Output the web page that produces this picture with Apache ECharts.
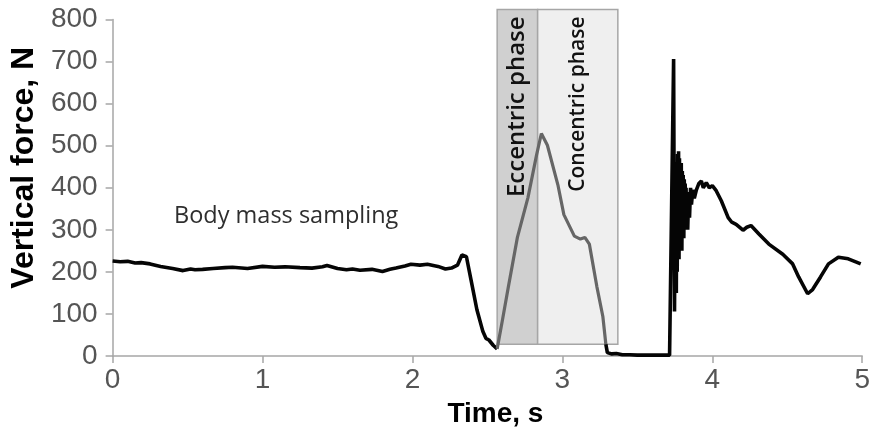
<!DOCTYPE html>
<html>
<head>
<meta charset="utf-8">
<script src="https://cdn.jsdelivr.net/npm/echarts@6/dist/echarts.min.js"></script>
<style>
  html, body { margin: 0; padding: 0; background: #fff; }
  #chart { width: 873px; height: 433px; }
</style>
</head>
<body>
<div id="chart"></div>
<script>
// Quiet standing and unweighting (black trace)
const timeStanding = [0, 0.05, 0.1, 0.15, 0.19, 0.25, 0.32, 0.4, 0.47, 0.52, 0.55, 0.6, 0.67, 0.75, 0.8, 0.9, 1.0, 1.08, 1.15, 1.25, 1.33, 1.4, 1.43, 1.5, 1.56, 1.6, 1.65, 1.73, 1.8, 1.85, 1.89, 1.95, 1.99, 2.05, 2.1, 2.17, 2.22, 2.26, 2.3, 2.33, 2.36, 2.39, 2.43, 2.47, 2.49, 2.51, 2.54, 2.565];
const forceStanding = [226, 224, 225, 221, 222, 219, 213, 208, 203, 207, 205, 206, 208, 210, 211, 208, 213, 211, 212, 210, 209, 212, 215, 208, 205, 207, 204, 206, 201, 206, 209, 214, 218, 216, 218, 213, 207, 209, 216, 240, 236, 182, 110, 58, 42, 38, 25, 17];

// Eccentric and concentric phases (grey trace)
const timePhases = [2.565, 2.6, 2.64, 2.7, 2.77, 2.828, 2.86, 2.9, 2.97, 3.01, 3.08, 3.12, 3.15, 3.18, 3.23, 3.27, 3.29];
const forcePhases = [17, 85, 165, 282, 376, 478, 529, 501, 407, 336, 285, 278, 282, 266, 165, 94, 28];

// Flight and landing (black trace)
const timeLanding = [3.29, 3.3, 3.33, 3.36, 3.4, 3.45, 3.5, 3.6, 3.715, 3.742, 3.748, 3.752, 3.755, 3.758, 3.76, 3.763, 3.766, 3.769, 3.772, 3.775, 3.778, 3.781, 3.784, 3.787, 3.79, 3.793, 3.797, 3.8, 3.803, 3.806, 3.81, 3.813, 3.816, 3.819, 3.822, 3.825, 3.828, 3.832, 3.836, 3.842, 3.848, 3.855, 3.861, 3.87, 3.88, 3.894, 3.91, 3.927, 3.94, 3.96, 3.98, 4.0, 4.026, 4.06, 4.106, 4.13, 4.159, 4.205, 4.23, 4.258, 4.311, 4.377, 4.47, 4.536, 4.576, 4.636, 4.669, 4.722, 4.775, 4.841, 4.907, 4.99];
const forceLanding = [28, 8, 5, 6, 3, 3, 2, 2, 2, 706, 106, 390, 180, 440, 150, 460, 200, 480, 240, 487, 230, 470, 250, 450, 270, 459, 250, 440, 300, 430, 280, 420, 313, 410, 300, 400, 330, 390, 300, 385, 329, 400, 360, 395, 375, 395, 410, 416, 400, 412, 400, 405, 393, 369, 329, 318, 313, 299, 306, 310, 290, 266, 242, 219, 188, 148, 158, 188, 219, 235, 231, 219];

// Phase boxes
const phaseNames = ['Eccentric phase', 'Concentric phase'];
const phaseStart = [2.565, 2.835];
const phaseEnd = [2.835, 3.37];
const phaseLow = [28, 28];
const phaseHigh = [824, 824];
const phaseFill = ['#d0d0d0', '#efefef'];
const phaseFontSize = [24, 21];

// Axis ticks
const timeTicks = [0, 1, 2, 3, 4, 5];
const forceTicks = [0, 100, 200, 300, 400, 500, 600, 700, 800];

const zip = (xs, ys) => xs.map((x, i) => [x, ys[i]]);

const chart = echarts.init(document.getElementById('chart'), null, { renderer: 'canvas' });

const labelFont = "'Liberation Sans', Arial, sans-serif";
const noteFont = "'Open Sans', sans-serif";

chart.setOption({
  animation: false,
  backgroundColor: '#ffffff',
  grid: { left: 112, right: 5, top: 19.5, bottom: 73, containLabel: false },
  xAxis: {
    type: 'value',
    min: timeTicks[0],
    max: timeTicks[timeTicks.length - 1],
    interval: 1,
    name: 'Time, s',
    nameLocation: 'middle',
    nameGap: 44,
    nameTextStyle: { fontFamily: labelFont, fontSize: 28, fontWeight: 'bold', color: '#000', padding: [0, 0, 0, 16] },
    axisLine: { lineStyle: { color: '#a6a6a6', width: 1.5 } },
    axisTick: { show: true, inside: false, length: 7, lineStyle: { color: '#a6a6a6', width: 1.5 } },
    axisLabel: { fontFamily: labelFont, fontSize: 28, color: '#555', margin: 10 },
    splitLine: { show: false }
  },
  yAxis: {
    type: 'value',
    min: forceTicks[0],
    max: forceTicks[forceTicks.length - 1],
    interval: 100,
    name: 'Vertical force, N',
    nameLocation: 'middle',
    nameRotate: 90,
    nameGap: 67,
    nameTextStyle: { fontFamily: labelFont, fontSize: 32, fontWeight: 'bold', color: '#000', padding: [0, 0, 0, 40] },
    axisLine: { show: true, lineStyle: { color: '#a6a6a6', width: 1.5 } },
    axisTick: { show: true, inside: false, length: 7, lineStyle: { color: '#a6a6a6', width: 1.5 } },
    axisLabel: { fontFamily: labelFont, fontSize: 28, color: '#555', margin: 15 },
    splitLine: { show: false }
  },
  series: [
    {
      type: 'custom',
      name: 'phases',
      z: 1,
      clip: false,
      silent: true,
      data: phaseNames.map((n, i) => [phaseStart[i], phaseEnd[i], phaseLow[i], phaseHigh[i], i]),
      encode: { x: [0, 1], y: [2, 3] },
      renderItem: function (params, api) {
        const i = api.value(4);
        const p0 = api.coord([api.value(0), api.value(3)]);
        const p1 = api.coord([api.value(1), api.value(2)]);
        const cx = (p0[0] + p1[0]) / 2;
        return {
          type: 'group',
          children: [
            {
              type: 'rect',
              shape: { x: p0[0], y: p0[1], width: p1[0] - p0[0], height: p1[1] - p0[1] },
              style: { fill: phaseFill[i], stroke: '#a6a6a6', lineWidth: 1.5 }
            },
            {
              type: 'text',
              x: cx,
              y: p0[1] + 7,
              rotation: Math.PI / 2,
              z2: 10,
              style: {
                text: phaseNames[i],
                fontFamily: noteFont,
                fontSize: phaseFontSize[i],
                fontWeight: 600,
                fill: '#111',
                align: 'right',
                verticalAlign: 'middle'
              }
            }
          ]
        };
      }
    },
    {
      type: 'line',
      name: 'standing',
      z: 3,
      showSymbol: false,
      symbol: 'none',
      data: zip(timeStanding, forceStanding),
      lineStyle: { color: '#050505', width: 3.6 }
    },
    {
      type: 'line',
      name: 'push-off',
      z: 3,
      showSymbol: false,
      symbol: 'none',
      data: zip(timePhases, forcePhases),
      lineStyle: { color: '#666666', width: 3.2 }
    },
    {
      type: 'line',
      name: 'landing',
      z: 3,
      showSymbol: false,
      symbol: 'none',
      data: zip(timeLanding, forceLanding),
      lineStyle: { color: '#050505', width: 3.6 }
    }
  ],
  graphic: [
    {
      type: 'text',
      left: 174,
      top: 204,
      style: {
        text: 'Body mass sampling',
        fontFamily: noteFont,
        fontSize: 23.5,
        fill: '#2e2e2e'
      }
    }
  ]
});
</script>
</body>
</html>
